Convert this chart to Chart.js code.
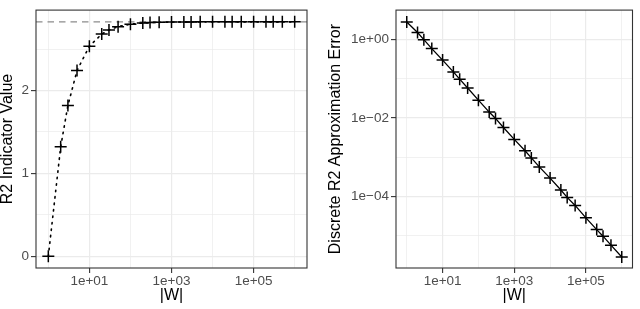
<!DOCTYPE html>
<html>
<head>
<meta charset="utf-8">
<script src="https://cdn.jsdelivr.net/npm/chart.js@4/dist/chart.umd.min.js"></script>
<style>
  html, body { margin: 0; padding: 0; background: #fff; }
  #wrap { position: relative; width: 640px; height: 309px; }
  .panel { position: absolute; top: 0; width: 320px; height: 309px; }
</style>
</head>
<body>
<div id="wrap">
  <div class="panel" style="left:0"><canvas id="left"></canvas></div>
  <div class="panel" style="left:320px"><canvas id="right"></canvas></div>
</div>
<script>
// |W| values, shared by both panels
var wSizes = [1, 2, 3, 5, 10, 20, 30, 50, 100, 200, 300, 500, 1000, 2000, 3000, 5000,
  1e4, 2e4, 3e4, 5e4, 1e5, 2e5, 3e5, 5e5, 1e6];
// left panel: R2 indicator value
var r2Values = [0, 1.32, 1.82, 2.24, 2.535, 2.68, 2.73, 2.77, 2.80, 2.814, 2.819, 2.822, 2.825,
  2.827, 2.827, 2.828, 2.828, 2.828, 2.828, 2.828, 2.828, 2.828, 2.828, 2.828, 2.828];
var r2Limit = 2.828;
// right panel: discrete approximation error
var errValues = [2.83, 1.52, 1.0, 0.59, 0.30, 0.15, 0.098, 0.058, 0.0284, 0.0141, 0.0097, 0.0057,
  0.00282, 0.00145, 0.00095, 0.00056, 2.9e-4, 1.44e-4, 9.3e-5, 5.8e-5, 2.8e-5, 1.4e-5,
  9.5e-6, 5.6e-6, 2.8e-6];

var xTicks = [1, 10, 100, 1000, 1e4, 1e5, 1e6];
var xMajor = [10, 1000, 1e5];
var r2Ticks = [0, 0.5, 1, 1.5, 2, 2.5];
var r2Major = [0, 1, 2];
var errTicks = [1, 0.1, 0.01, 0.001, 1e-4, 1e-5];
var errMajor = [1, 0.01, 1e-4];

var FONT = "'Liberation Sans', Arimo, Helvetica, Arial, sans-serif";

function sci(v) {
  var e = Math.round(Math.log10(v));
  var s = e < 0 ? '\u2212' : '+';
  var a = Math.abs(e);
  return '1e' + s + (a < 10 ? '0' : '') + a;
}

function isMajor(list, v) {
  return list.some(function (m) { return Math.abs(m - v) <= Math.abs(m) * 1e-6 + 1e-9; });
}

function gridOpts(major) {
  return {
    color: '#EBEBEB',
    lineWidth: function (c) { return c.tick && isMajor(major, c.tick.value) ? 1.2 : 0.7; },
    tickColor: function (c) { return c.tick && isMajor(major, c.tick.value) ? '#333333' : 'rgba(0,0,0,0)'; },
    tickLength: 5,
    tickWidth: 1.1,
    drawTicks: true
  };
}

var panelBox = {
  id: 'panelBox',
  beforeDatasetsDraw: function (chart, args, opts) {
    if (opts.hline == null) return;
    var a = chart.chartArea, y = chart.scales.y.getPixelForValue(opts.hline);
    var ctx = chart.ctx;
    ctx.save();
    ctx.strokeStyle = '#8C8C8C';
    ctx.lineWidth = 1.3;
    ctx.setLineDash([6.5, 5]);
    ctx.beginPath();
    ctx.moveTo(a.left, y);
    ctx.lineTo(a.right, y);
    ctx.stroke();
    ctx.restore();
  },
  afterDraw: function (chart) {
    var a = chart.chartArea, ctx = chart.ctx;
    ctx.save();
    ctx.strokeStyle = '#333333';
    ctx.lineWidth = 1.1;
    ctx.strokeRect(a.left, a.top, a.right - a.left, a.bottom - a.top);
    ctx.restore();
  }
};

function makePanel(id, values, yType, yMin, yMax, yTicks, yMajor, yFmt, yTitle, dash, hline, pad, yWidth) {
  var points = wSizes.map(function (w, i) { return { x: w, y: values[i] }; });
  return new Chart(document.getElementById(id), {
    type: 'line',
    data: {
      datasets: [{
        data: points,
        borderColor: '#000',
        borderWidth: dash ? 1.6 : 1.3,
        borderDash: dash || [],
        borderCapStyle: 'round',
        pointStyle: 'cross',
        pointRadius: 6,
        pointBorderWidth: 1.5,
        pointBorderColor: '#000',
        pointBackgroundColor: '#000',
        tension: 0
      }]
    },
    options: {
      responsive: false,
      animation: false,
      devicePixelRatio: 1,
      layout: { padding: pad },
      plugins: { legend: { display: false }, tooltip: { enabled: false }, panelBox: { hline: hline } },
      scales: {
        x: {
          type: 'logarithmic',
          min: Math.pow(10, -0.3),
          max: Math.pow(10, 6.3),
          afterBuildTicks: function (s) { s.ticks = xTicks.map(function (v) { return { value: v }; }); },
          afterFit: function (s) { s.height = 41; },
          border: { display: false },
          grid: gridOpts(xMajor),
          ticks: {
            autoSkip: false, maxRotation: 0, padding: 0, color: '#4D4D4D',
            font: { family: FONT, size: 13.5 },
            callback: function (v) { return isMajor(xMajor, v) ? sci(v) : ''; }
          },
          title: { display: true, text: '|W|', color: '#000', font: { family: FONT, size: 16 }, padding: { top: 0, bottom: 4 } }
        },
        y: {
          type: yType,
          min: yMin,
          max: yMax,
          afterBuildTicks: function (s) { s.ticks = yTicks.map(function (v) { return { value: v }; }); },
          afterFit: function (s) { s.width = yWidth; },
          border: { display: false },
          grid: gridOpts(yMajor),
          ticks: {
            autoSkip: false, padding: 2, color: '#4D4D4D',
            font: { family: FONT, size: 13.5 },
            callback: function (v) { return isMajor(yMajor, v) ? yFmt(v) : ''; }
          },
          title: { display: true, text: yTitle, color: '#000', font: { family: FONT, size: 16, lineHeight: 1 }, padding: { top: 0, bottom: 0 } }
        }
      }
    },
    plugins: [panelBox]
  });
}

function sizeCanvas(id) {
  var c = document.getElementById(id);
  c.width = 320; c.height = 309;
  c.style.width = '320px'; c.style.height = '309px';
}
sizeCanvas('left');
sizeCanvas('right');

makePanel('left', r2Values, 'linear', -0.1414, 2.9698, r2Ticks, r2Major,
  function (v) { return String(v); }, 'R2 Indicator Value', [1.5, 5], r2Limit,
  { left: 0, top: 1, right: 13, bottom: 0 }, 36);

makePanel('right', errValues, 'logarithmic', Math.pow(10, -5.835), Math.pow(10, 0.755), errTicks, errMajor,
  sci, 'Discrete R2 Approximation Error', null, null,
  { left: 8, top: 1, right: 3, bottom: 0 }, 68);
</script>
</body>
</html>
